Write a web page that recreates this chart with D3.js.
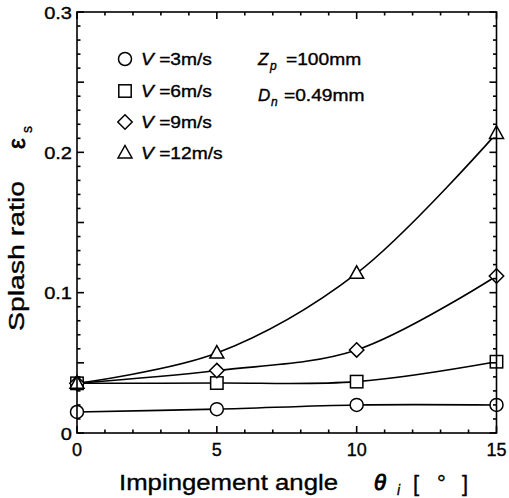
<!DOCTYPE html>
<html>
<head>
<meta charset="utf-8">
<script src="https://cdn.jsdelivr.net/npm/d3@7"></script>
<style>
  html, body { margin: 0; padding: 0; background: #fff; }
  svg text { font-family: "Liberation Sans", Arial, Helvetica, sans-serif; fill: #000; stroke: #000; stroke-width: 0.35px; }
</style>
</head>
<body>
<svg id="chart" width="509" height="498"></svg>
<script>
// Impingement angle (deg)
const angles = [0, 5, 10, 15];
// Splash ratio for each jet velocity
const v3  = [0.0150, 0.0170, 0.0200, 0.0200];
const v6  = [0.0354, 0.0356, 0.0366, 0.0508];
const v9  = [0.0354, 0.0445, 0.0592, 0.1119];
const v12 = [0.0354, 0.0570, 0.1138, 0.2135];
const seriesNames = ["3", "6", "9", "12"];
const seriesShapes = ["circle", "square", "diamond", "triangle"];
const xTicks = [0, 5, 10, 15];
const yTicks = [0, 0.1, 0.2, 0.3];
const yTickLabels = ["0", "0.1", "0.2", "0.3"];

const svg = d3.select("#chart");
const L = 77, R = 496.5, T = 12, B = 433;
const x = d3.scaleLinear().domain([0, 15]).range([L, R]);
const y = d3.scaleLinear().domain([0, 0.3]).range([B, T]);

const seriesData = [v3, v6, v9, v12].map(vals => angles.map((a, i) => ({ a, v: vals[i] })));

// smooth curves through the measured points
const line = d3.line().x(d => x(d.a)).y(d => y(d.v)).curve(d3.curveCatmullRom.alpha(0.5));
svg.append("g").selectAll("path").data(seriesData).join("path")
  .attr("d", line).attr("fill", "none").attr("stroke", "#000").attr("stroke-width", 1.6);

// marker drawing
function marker(g, shape, cx, cy) {
  let el;
  if (shape === "circle") {
    el = g.append("circle").attr("cx", cx).attr("cy", cy).attr("r", 6.5);
  } else if (shape === "square") {
    el = g.append("rect").attr("x", cx - 6.2).attr("y", cy - 6.2).attr("width", 12.4).attr("height", 12.4);
  } else if (shape === "diamond") {
    el = g.append("path").attr("d", `M${cx},${cy - 7.2}L${cx + 7.2},${cy}L${cx},${cy + 7.2}L${cx - 7.2},${cy}Z`);
  } else {
    el = g.append("path").attr("d", `M${cx},${cy - 7.5}L${cx + 7},${cy + 5}L${cx - 7},${cy + 5}Z`);
  }
  el.attr("fill", "#fff").attr("stroke", "#000").attr("stroke-width", 1.5);
}

const mg = svg.append("g");
seriesData.forEach((pts, si) => {
  pts.forEach(p => marker(mg, seriesShapes[si], x(p.a), y(p.v)));
});

// frame and ticks
const axes = svg.append("g").attr("stroke", "#000").attr("stroke-width", 1.6);
axes.append("rect").attr("x", L).attr("y", T).attr("width", R - L).attr("height", B - T).attr("fill", "none");
d3.range(0, 16).forEach(v => {
  const len = v % 5 === 0 ? 7 : 3.5;
  axes.append("line").attr("x1", x(v)).attr("x2", x(v)).attr("y1", B).attr("y2", B - len);
  axes.append("line").attr("x1", x(v)).attr("x2", x(v)).attr("y1", T).attr("y2", T + len);
});
d3.range(0, 31).forEach(k => {
  const v = k / 100;
  const len = k % 5 === 0 ? 7 : 3.5;
  axes.append("line").attr("y1", y(v)).attr("y2", y(v)).attr("x1", L).attr("x2", L + len);
  axes.append("line").attr("y1", y(v)).attr("y2", y(v)).attr("x1", R).attr("x2", R - len);
});

// tick labels
svg.append("g").selectAll("text").data(xTicks).join("text")
  .attr("x", d => x(d)).attr("y", 456).attr("text-anchor", "middle")
  .attr("font-size", 18).text(d => d);
svg.append("g").selectAll("g").data(yTicks).join("g")
  .attr("transform", d => `translate(72,${y(d) + 6.5}) scale(1.18,1)`)
  .append("text").attr("text-anchor", "end").attr("font-size", 17)
  .text((d, i) => yTickLabels[i]);

// axis titles
const xt = svg.append("g");
xt.append("text").attr("x", 119).attr("y", 490).attr("font-size", 22)
  .attr("textLength", 219).attr("lengthAdjust", "spacingAndGlyphs").text("Impingement angle");
xt.append("text").attr("x", 374).attr("y", 490).attr("font-size", 22).attr("font-style", "italic")
  .style("stroke-width", "0.9px").text("θ");
xt.append("text").attr("x", 397).attr("y", 495).attr("font-size", 14).attr("font-style", "italic").text("i");
xt.append("text").attr("x", 413).attr("y", 491).attr("font-size", 22).text("[");
xt.append("text").attr("x", 437).attr("y", 491).attr("font-size", 22).text("°");
xt.append("text").attr("x", 462).attr("y", 491).attr("font-size", 22).text("]");

const yt = svg.append("g").attr("transform", "translate(24,331) rotate(-90)");
yt.append("text").attr("x", 0).attr("y", 0).attr("font-size", 22)
  .attr("textLength", 150).attr("lengthAdjust", "spacingAndGlyphs").text("Splash ratio");
yt.append("text").attr("x", 182).attr("y", 1).attr("font-size", 24).style("stroke-width", "0.7px").text("ε");
yt.append("text").attr("x", 198).attr("y", 8).attr("font-size", 14).text("s");

// legend
const lg = svg.append("g");
const rowY = [59, 91, 122, 153];
seriesNames.forEach((n, i) => {
  marker(lg, seriesShapes[i], 125, rowY[i]);
  const tg = lg.append("g").attr("transform", `translate(141,${rowY[i] + 6}) scale(1.2,1)`);
  const t = tg.append("text").attr("font-size", 16);
  t.append("tspan").attr("font-style", "italic").text("V");
  t.append("tspan").text(" =" + n + "m/s");
});

// conditions
const cg = svg.append("g");
cg.append("text").attr("x", 258).attr("y", 65).attr("font-size", 17).attr("font-style", "italic").text("Z");
cg.append("text").attr("x", 270).attr("y", 70).attr("font-size", 12).attr("font-style", "italic").text("p");
cg.append("g").attr("transform", "translate(286,65) scale(1.2,1)")
  .append("text").attr("font-size", 16).text("=100mm");
cg.append("text").attr("x", 258).attr("y", 101).attr("font-size", 17).attr("font-style", "italic").text("D");
cg.append("text").attr("x", 271).attr("y", 106).attr("font-size", 12).attr("font-style", "italic").text("n");
cg.append("g").attr("transform", "translate(284,101) scale(1.2,1)")
  .append("text").attr("font-size", 16).text("=0.49mm");
</script>
</body>
</html>
